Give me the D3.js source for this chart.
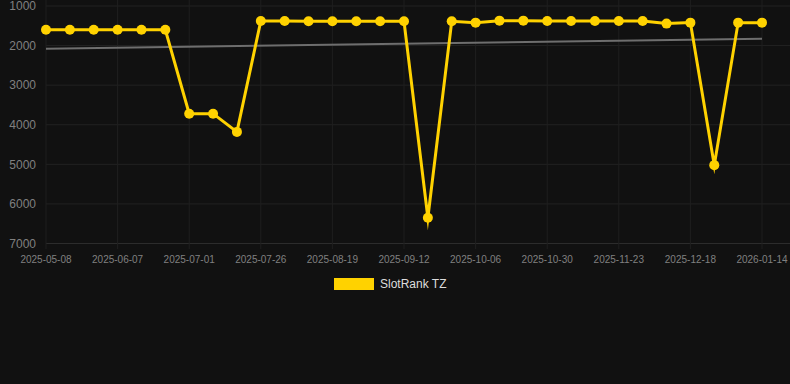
<!DOCTYPE html>
<html><head><meta charset="utf-8">
<script src="https://cdn.jsdelivr.net/npm/d3@7"></script>
<style>
html,body{margin:0;padding:0;background:#111111;}
svg{display:block;font-family:"Liberation Sans",Arial,sans-serif;}
</style></head><body>
<svg id="c" width="790" height="384"></svg>
<script>
const dates = ["2025-05-08","2025-05-18","2025-05-28","2025-06-07","2025-06-15","2025-06-23","2025-07-01","2025-07-09","2025-07-17","2025-07-26","2025-08-03","2025-08-11","2025-08-19","2025-08-27","2025-09-04","2025-09-12","2025-09-20","2025-09-28","2025-10-06","2025-10-14","2025-10-22","2025-10-30","2025-11-07","2025-11-15","2025-11-23","2025-12-01","2025-12-09","2025-12-18","2025-12-27","2026-01-05","2026-01-14"];
const ranks = [1600,1600,1600,1600,1600,1600,3720,3720,4180,1380,1380,1385,1385,1385,1385,1385,6350,1385,1420,1370,1370,1380,1380,1380,1380,1380,1445,1420,5020,1420,1420];
const trendValues = [2080,1825];
const yTicks = [1000,2000,3000,4000,5000,6000,7000];
const xTickLabels = dates.filter((d,i)=>i%3===0);
const seriesName = "SlotRank TZ";

const svg = d3.select("#c");
const x = d3.scalePoint().domain(dates).range([46,762]);
const y = d3.scaleLinear().domain([1000,7000]).range([6,243.5]);

// horizontal grid
svg.append("g").selectAll("line").data(yTicks).join("line")
  .attr("x1",46).attr("x2",790)
  .attr("y1",d=>y(d)).attr("y2",d=>y(d))
  .attr("stroke",d=>d===7000?"#2c2c2c":"#222222").attr("stroke-width",1);
// vertical grid
svg.append("g").selectAll("line").data(xTickLabels).join("line")
  .attr("x1",d=>x(d)).attr("x2",d=>x(d))
  .attr("y1",0).attr("y2",249)
  .attr("stroke","#1f1f1f").attr("stroke-width",1);

// y labels
svg.append("g").selectAll("text").data(yTicks).join("text")
  .attr("x",36).attr("y",d=>y(d)).attr("dy","0.35em")
  .attr("text-anchor","end").attr("fill","#808080").attr("font-size",12)
  .text(d=>d);
// x labels
svg.append("g").selectAll("text").data(xTickLabels).join("text")
  .attr("x",d=>x(d)).attr("y",263)
  .attr("text-anchor","middle").attr("fill","#808080").attr("font-size",10)
  .text(d=>d);

// trend line
svg.append("line")
  .attr("x1",x(dates[0])).attr("x2",x(dates[dates.length-1]))
  .attr("y1",y(trendValues[0])).attr("y2",y(trendValues[1]))
  .attr("stroke","#6e6e6e").attr("stroke-width",2);

// series line
const line = d3.line().x((d,i)=>x(dates[i])).y(d=>y(d));
svg.append("path").datum(ranks).attr("d",line)
  .attr("fill","none").attr("stroke","#FFD200").attr("stroke-width",3)
  .attr("stroke-linejoin","miter").attr("stroke-miterlimit",10);
svg.append("g").selectAll("circle").data(ranks).join("circle")
  .attr("cx",(d,i)=>x(dates[i])).attr("cy",d=>y(d)).attr("r",5)
  .attr("fill","#FFD200");

// legend
svg.append("rect").attr("x",334).attr("y",278).attr("width",40).attr("height",12).attr("fill","#FFD200");
svg.append("text").attr("x",380).attr("y",284).attr("dy","0.35em")
  .attr("fill","#dddddd").attr("font-size",12).text(seriesName);
</script>
</body></html>
